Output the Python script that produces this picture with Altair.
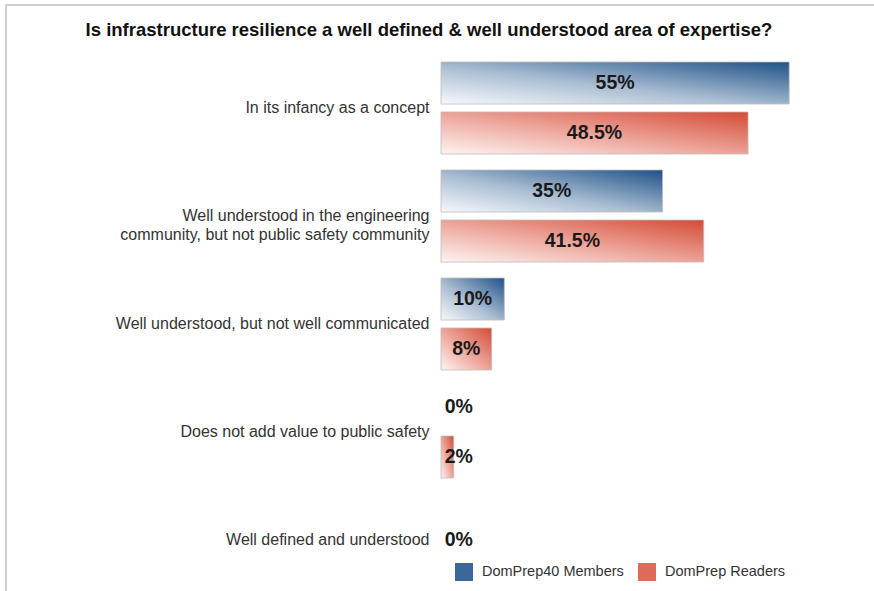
import altair as alt
import pandas as pd

# Survey answers and the share of each audience choosing them
categories = [
    "In its infancy as a concept",
    "Well understood in the engineering\ncommunity, but not public safety community",
    "Well understood, but not well communicated",
    "Does not add value to public safety",
    "Well defined and understood",
]
series = ["DomPrep40 Members", "DomPrep Readers"]
members = [55, 35, 10, 0, 0]
readers = [48.5, 41.5, 8, 2, 0]
title_text = "Is infrastructure resilience a well defined & well understood area of expertise?"

rows = []
for cat, m, r in zip(categories, members, readers):
    rows.append({"category": cat, "series": series[0], "value": m})
    rows.append({"category": cat, "series": series[1], "value": r})
df = pd.DataFrame(rows)

FONT = "Liberation Sans"
LEFT, TOP = 441, 54

blue_grad = {
    "gradient": "linear", "x1": 0, "y1": 1, "x2": 1, "y2": 0,
    "stops": [
        {"offset": 0, "color": "#f7f9fc"},
        {"offset": 0.45, "color": "#a9bdd2"},
        {"offset": 1, "color": "#1f5187"},
    ],
}
red_grad = {
    "gradient": "linear", "x1": 0, "y1": 1, "x2": 1, "y2": 0,
    "stops": [
        {"offset": 0, "color": "#fdf4f2"},
        {"offset": 0.45, "color": "#eeaaa0"},
        {"offset": 1, "color": "#d44b36"},
    ],
}

x_scale = alt.Scale(domain=[0, 68.4], nice=False, zero=True)
y_enc = alt.Y(
    "category:N",
    sort=categories,
    scale=alt.Scale(domain=categories, paddingInner=0, paddingOuter=0),
    axis=alt.Axis(
        title=None, domain=False, ticks=False, grid=False,
        labelExpr="split(datum.label, '\\n')",
        labelFont=FONT, labelFontSize=16, labelColor="#333333",
        labelPadding=12, labelLimit=420, labelLineHeight=19,
    ),
)
yoff_enc = alt.YOffset(
    "series:N", sort=series,
    scale=alt.Scale(domain=series, paddingInner=0.16, paddingOuter=0.16),
)

base = alt.Chart(df)
first_row = "datum.category == '" + categories[0] + "' && datum.series == '" + series[0] + "'"

# Light frame along the top and left edge of the figure
frame = base.mark_rect(fill=None, stroke="#cfcfcf", strokeWidth=2).encode(
    x=alt.value(6 - LEFT), x2=alt.value(460), y=alt.value(5 - TOP), y2=alt.value(600)
).transform_filter(first_row)

title = base.mark_text(
    font=FONT, fontSize=18.5, fontWeight="bold", color="#111111",
    align="center", baseline="middle",
).encode(
    x=alt.value(429 - LEFT), y=alt.value(30 - TOP), text=alt.value(title_text)
).transform_filter(first_row)

bars = base.mark_bar(stroke="#bdbdbd", strokeWidth=0.8).encode(
    x=alt.X("value:Q", scale=x_scale, axis=None),
    y=y_enc,
    yOffset=yoff_enc,
    fill=alt.condition(
        "datum.series == '" + series[0] + "'",
        alt.value(blue_grad),
        alt.value(red_grad),
    ),
).transform_filter("datum.value > 0")

label_common = dict(font=FONT, fontSize=19.5, fontWeight="bold", color="#1a1a1a", baseline="middle")

labels = base.mark_text(**label_common).encode(
    x=alt.X("lx:Q", scale=x_scale, axis=None),
    y=y_enc,
    yOffset=yoff_enc,
    text="txt:N",
).transform_joinaggregate(
    total="sum(value)", groupby=["category"]
).transform_filter("datum.total > 0").transform_calculate(
    lx="max(datum.value / 2, 2.8)",
    txt="datum.value + '%'",
)

# A category nobody picked gets a single centred label
zero_labels = base.mark_text(**label_common).encode(
    x=alt.X("lx:Q", scale=x_scale, axis=None),
    y=y_enc,
    text="txt:N",
).transform_joinaggregate(
    total="sum(value)", groupby=["category"]
).transform_filter(
    "datum.total == 0 && datum.series == '" + series[0] + "'"
).transform_calculate(
    lx="2.8",
    txt="datum.value + '%'",
)

legend_layer = base.mark_square(opacity=0, size=0).encode(
    x=alt.X("value:Q", scale=x_scale, axis=None),
    y=y_enc,
    fill=alt.Fill(
        "series:N",
        sort=series,
        scale=alt.Scale(domain=series, range=["#3b6899", "#dd6b59"]),
        legend=alt.Legend(
            title=None, orient="none", direction="horizontal",
            legendX=14, legendY=562 - TOP + 1,
            symbolType="square", symbolSize=324, symbolOpacity=1,
            symbolStrokeWidth=0,
            labelFont=FONT, labelFontSize=14.5, labelColor="#333333",
            labelOffset=9, columnPadding=14,
        ),
    ),
)

chart = alt.layer(frame, title, bars, labels, zero_labels, legend_layer).properties(
    width=433,
    height=540,
    autosize=alt.AutoSizeParams(type="none"),
    padding={"left": LEFT, "top": TOP, "right": 0, "bottom": 0},
).configure(background="white").configure_view(stroke=None)

chart.save("out.html", embed_options={"renderer": "svg", "actions": False})
